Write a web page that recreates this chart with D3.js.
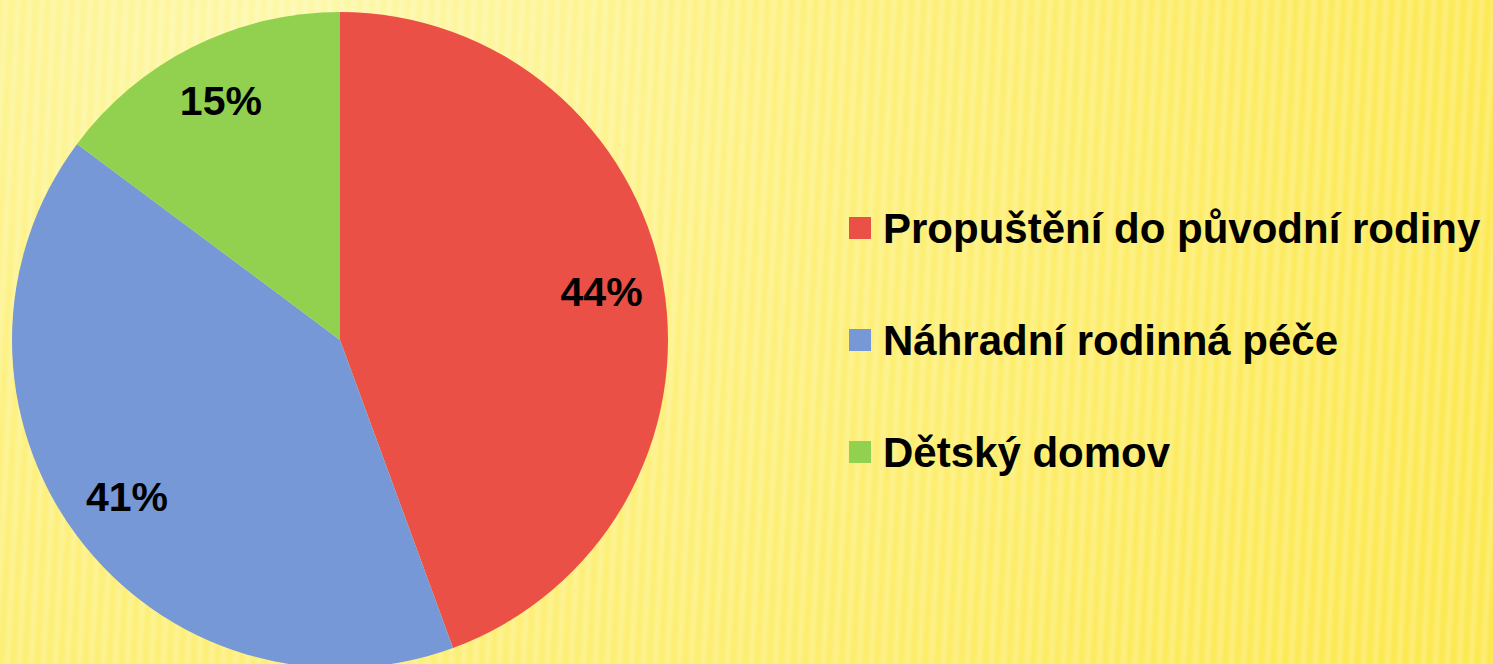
<!DOCTYPE html>
<html>
<head>
<meta charset="utf-8">
<script src="https://cdn.jsdelivr.net/npm/d3@7"></script>
<style>
  html, body { margin: 0; padding: 0; overflow: hidden; }
  svg { display: block; }
</style>
</head>
<body>
<div id="chart"></div>
<script>

// DATA
let categories = ["Propuštění do původní rodiny", "Náhradní rodinná péče", "Dětský domov"];
let values = [44.4, 40.8, 14.8];
let labels = ["44%", "41%", "15%"];
let colors = ["#EB5046", "#7698D6", "#92D050"];

// CHART AREA
let width = 1493,
    height = 664;

let svg = d3.select("#chart").append("svg")
    .attr("width", width)
    .attr("height", height);

let defs = svg.append("defs");

// background glow
let glow = defs.append("radialGradient")
    .attr("id", "glow")
    .attr("gradientUnits", "userSpaceOnUse")
    .attr("cx", 300).attr("cy", 40).attr("r", 1250);
glow.append("stop").attr("offset", "0%").attr("stop-color", "#FDF8A8");
glow.append("stop").attr("offset", "40%").attr("stop-color", "#FDF07A");
glow.append("stop").attr("offset", "100%").attr("stop-color", "#FCE84C");

// stripes
let stripeGrad = defs.append("linearGradient")
    .attr("id", "stripeGrad")
    .attr("x1", "0%").attr("x2", "100%").attr("y1", "0%").attr("y2", "0%");
stripeGrad.append("stop").attr("offset", "0%").attr("stop-color", "#fff").attr("stop-opacity", 0);
stripeGrad.append("stop").attr("offset", "50%").attr("stop-color", "#fff").attr("stop-opacity", 0.25);
stripeGrad.append("stop").attr("offset", "100%").attr("stop-color", "#fff").attr("stop-opacity", 0);

let stripes = defs.append("pattern")
    .attr("id", "stripes")
    .attr("patternUnits", "userSpaceOnUse")
    .attr("width", 12).attr("height", 664)
    .attr("patternTransform", "skewX(-3)");
stripes.append("rect")
    .attr("width", 12).attr("height", 664)
    .attr("fill", "url(#stripeGrad)");

svg.append("rect")
    .attr("width", width).attr("height", height)
    .attr("fill", "url(#glow)");

svg.append("rect")
    .attr("width", width).attr("height", height)
    .attr("fill", "url(#stripes)");

// PIE
let cx = 340, cy = 340, radius = 328;

let pie = d3.pie().sort(null).value(d => d.value);
let arc = d3.arc().innerRadius(0).outerRadius(radius);
let labelArc = d3.arc().innerRadius(radius * 0.81).outerRadius(radius * 0.81);

let data = categories.map((c, i) => ({name: c, value: values[i], label: labels[i], color: colors[i]}));

let g = svg.append("g")
    .attr("transform", "translate(" + cx + "," + cy + ")");

let slices = g.selectAll(".slice")
    .data(pie(data))
    .enter()
    .append("g")
    .attr("class", "slice");

slices.append("path")
    .attr("d", arc)
    .attr("fill", d => d.data.color);

slices.append("text")
    .attr("transform", d => "translate(" + labelArc.centroid(d) + ")")
    .attr("text-anchor", "middle")
    .attr("dy", "0.3em")
    .attr("font-family", "'Liberation Sans', Arial, sans-serif")
    .attr("font-weight", "bold")
    .attr("font-size", 41)
    .attr("fill", "#000")
    .text(d => d.data.label);

// LEGEND
let legendY = d3.scalePoint()
    .domain(categories)
    .range([228, 452]);

let legend = svg.selectAll(".legend")
    .data(data)
    .enter()
    .append("g")
    .attr("class", "legend")
    .attr("transform", d => "translate(849," + legendY(d.name) + ")");

legend.append("rect")
    .attr("x", 0).attr("y", -11)
    .attr("width", 22).attr("height", 22)
    .attr("fill", d => d.color);

legend.append("text")
    .attr("x", 34)
    .attr("y", 15)
    .attr("font-family", "'Liberation Sans', Arial, sans-serif")
    .attr("font-weight", "bold")
    .attr("font-size", 42)
    .attr("fill", "#000")
    .text(d => d.name);

</script>
</body>
</html>
